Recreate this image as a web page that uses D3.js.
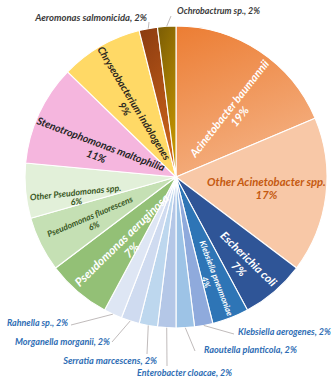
<!DOCTYPE html>
<html>
<head>
<meta charset="utf-8">
<script src="https://cdn.jsdelivr.net/npm/d3@7"></script>
<style>
  html, body { margin: 0; padding: 0; background: #fff; }
  svg { display: block; }
  text { font-family: Lato, "Open Sans", sans-serif; font-style: italic; font-weight: 700; }
</style>
</head>
<body>
<svg id="chart" width="334" height="382"></svg>
<script>
// Isolates by species (share of total, %), clockwise from 12 o'clock
const species = [
  "Acinetobacter baumannii", "Other Acinetobacter spp.", "Escherichia coli",
  "Klebsiella pneumoniae", "Klebsiella aerogenes", "Raoutella planticola",
  "Enterobacter cloacae", "Serratia marcescens", "Morganella morganii",
  "Rahnella sp.", "Pseudomonas aeruginosa", "Pseudomonas fluorescens",
  "Other Pseudomonas spp.", "Stenotrophomonas maltophilia",
  "Chryseobacterium indologenes", "Aeromonas salmonicida", "Ochrobactrum sp."
];
const shares = [19, 17, 7, 4, 2, 2, 2, 2, 2, 2, 7, 6, 6, 11, 9, 2, 2];

// Slice fills (string = flat colour, pair = gradient top -> bottom)
const palette = [
  ["#EC7D33", "#F4AF80"], "#F8C8A7", "#2F5597", "#2E75B6", "#8FAADC",
  "#9DC3E6", "#B4C7E7", "#BDD7EE", "#CFDBF0", "#DEE6F4", "#93C076",
  "#C5E0B4", "#E2F0D9", "#F5B6DE", "#FFD966", ["#8A3B10", "#C9611A"],
  ["#7A5C05", "#C29300"]
];

const W = 334, H = 382, cx = 176, cy = 177, R = 151;

// Labels drawn inside slices: position inside the slice (fraction of its sweep,
// radius), a small tilt from the radial direction, and the width of the name line
const inner = {
  0:  { frac: 0.62, r: 87,  tilt: -3.3, width: 120, lh: 13, color: "#ffffff" },
  1:  { frac: 0.49, r: 91,  flat: true, width: 119, lh: 13, color: "#C55A11" },
  2:  { frac: 0.59, r: 110, tilt: -7.7, width: 73,  lh: 14, color: "#ffffff" },
  3:  { frac: 0.67, r: 109, tilt: -2,   width: 80,  lh: 11, color: "#ffffff" },
  10: { frac: 0.33, r: 84,  tilt: 9.3,  width: 126, lh: 14, color: "#ffffff" },
  11: { frac: 0.44, r: 95,  tilt: 4.7,  width: 92,  lh: 10, color: "#385723" },
  12: { frac: 0.24, r: 102, tilt: 4.6,  width: 92,  lh: 9,  color: "#385723" },
  13: { frac: 0.36, r: 82,  tilt: 1.3,  width: 136, lh: 13, color: "#262626" },
  14: { frac: 0.40, r: 85,  tilt: 2,    width: 131, lh: 11, color: "#2b2620" }
};

// Labels outside the pie with leader lines (offsets from the pie centre)
const outer = {
  4:  { tx: 62,  ty: 158,  anchor: "start",  width: 93, lx: 58,  ly: 157,  color: "#2E6DB4" },
  5:  { tx: 28,  ty: 176,  anchor: "start",  width: 93, lx: 19,  ly: 174,  color: "#2E6DB4" },
  6:  { tx: 8.5, ty: 199,  anchor: "middle", width: 95, lx: -9,  ly: 189,  color: "#2E6DB4" },
  7:  { tx: -19, ty: 187,  anchor: "end",    width: 94, lx: -29, ly: 177,  color: "#2E6DB4" },
  8:  { tx: -66, ty: 168,  anchor: "end",    width: 95, lx: -64, ly: 165,  color: "#2E6DB4" },
  9:  { tx: -108, ty: 149, anchor: "end",    width: 61, lx: -105, ly: 148, color: "#2E6DB4" },
  15: { tx: -29, ty: -156, anchor: "end",    width: 112, lx: -27, ly: -155, color: "#3a3a3a" },
  16: { tx: 1,   ty: -163, anchor: "start",  width: 83, lx: -5,  ly: -161, color: "#3a3a3a" }
};

const rows = species.map((name, i) => ({ name, value: shares[i], i }));

const svg = d3.select("#chart");
const defs = svg.append("defs");
palette.forEach((p, i) => {
  if (Array.isArray(p)) {
    const gr = defs.append("linearGradient")
      .attr("id", "grad" + i)
      .attr("x1", 0).attr("y1", 0).attr("x2", 0.35).attr("y2", 1);
    gr.append("stop").attr("offset", "0%").attr("stop-color", p[0]);
    gr.append("stop").attr("offset", "100%").attr("stop-color", p[1]);
  }
});
const fillOf = i => Array.isArray(palette[i]) ? `url(#grad${i})` : palette[i];

const pie = d3.pie().value(d => d.value).sort(null);
const arc = d3.arc().innerRadius(0).outerRadius(R);
const arcs = pie(rows);

const g = svg.append("g").attr("transform", `translate(${cx},${cy})`);

g.selectAll("path.slice")
  .data(arcs)
  .join("path")
  .attr("class", "slice")
  .attr("d", arc)
  .attr("fill", d => fillOf(d.data.i))
  .attr("stroke", "#ffffff")
  .attr("stroke-width", 1.1)
  .attr("stroke-linejoin", "round");

const deg = 180 / Math.PI;
const polar = (a, r) => [r * Math.sin(a), -r * Math.cos(a)];

// Font size that makes a string span the given width
const probe = svg.append("text").attr("font-size", 10).attr("visibility", "hidden");
const sizeFor = (str, width) => {
  probe.text(str);
  const len = probe.node().getComputedTextLength() || 1;
  return 10 * width / len;
};

// In-slice labels
arcs.filter(d => inner[d.data.i]).forEach(d => {
  const o = inner[d.data.i];
  const a = d.startAngle + o.frac * (d.endAngle - d.startAngle);
  const [x, y] = polar(a, o.r);
  const ad = a * deg;
  const rot = o.flat ? 0 : (ad <= 180 ? ad - 90 : ad - 270) + o.tilt;
  const t = g.append("text")
    .attr("transform", `translate(${x},${y}) rotate(${rot})`)
    .attr("text-anchor", "middle")
    .attr("dominant-baseline", "central")
    .attr("font-size", sizeFor(d.data.name, o.width))
    .attr("fill", o.color);
  t.append("tspan").attr("x", 0).attr("y", -o.lh / 2).text(d.data.name);
  t.append("tspan").attr("x", 0).attr("y", o.lh / 2).text(d.data.value + "%");
});

// Outside labels with leader lines
arcs.filter(d => outer[d.data.i]).forEach(d => {
  const o = outer[d.data.i];
  const mid = (d.startAngle + d.endAngle) / 2;
  const [sx, sy] = polar(mid, R);
  const label = `${d.data.name}, ${d.data.value}%`;
  g.append("line")
    .attr("x1", sx).attr("y1", sy)
    .attr("x2", o.lx).attr("y2", o.ly)
    .attr("stroke", "#b9b3b3")
    .attr("stroke-width", 0.9);
  g.append("text")
    .attr("x", o.tx).attr("y", o.ty)
    .attr("text-anchor", o.anchor)
    .attr("font-size", sizeFor(label, o.width))
    .attr("fill", o.color)
    .text(label);
});
probe.remove();
</script>
</body>
</html>
